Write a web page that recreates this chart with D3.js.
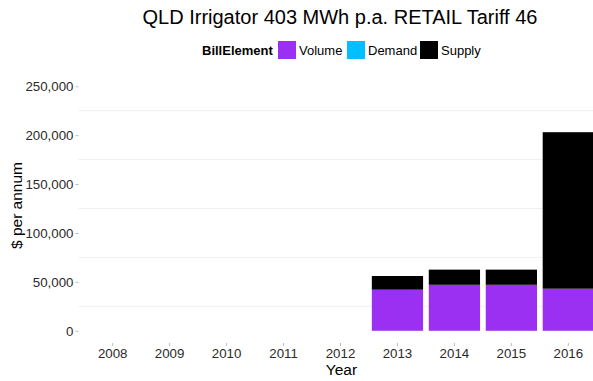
<!DOCTYPE html>
<html>
<head>
<meta charset="utf-8">
<script src="https://cdn.jsdelivr.net/npm/d3@7"></script>
<style>
  body { margin: 0; background: #fff; }
  svg { display: block; font-family: "Liberation Sans", Arial, sans-serif; }
</style>
</head>
<body>
<svg id="chart" width="593" height="381"></svg>
<script>
// Annual bill components, $ per annum
const years = ["2008", "2009", "2010", "2011", "2012", "2013", "2014", "2015", "2016"];
const elements = ["Volume", "Demand", "Supply"];
const volume = [0, 0, 0, 0, 0, 42000, 47000, 47000, 43000];
const demand = [0, 0, 0, 0, 0, 0, 0, 0, 0];
const supply = [0, 0, 0, 0, 0, 14000, 15500, 15500, 160000];
const colours = ["#9B30F2", "#00BFFF", "#000000"];
const yTicks = [0, 50000, 100000, 150000, 200000, 250000];
const yMinor = [25000, 75000, 125000, 175000, 225000];

const svg = d3.select("#chart");
const panel = { left: 78.5, right: 602.5, top: 74, bottom: 343 };

const x = d3.scaleBand()
  .domain(years)
  .range([panel.left, panel.right])
  .paddingInner(0.1)
  .paddingOuter(0.15);

const y = d3.scaleLinear()
  .domain([-12500, 262500])
  .range([panel.bottom, panel.top]);

const colour = d3.scaleOrdinal().domain(elements).range(colours);

// Faint minor grid
svg.append("g")
  .selectAll("line")
  .data(yMinor)
  .join("line")
  .attr("x1", panel.left)
  .attr("x2", panel.right)
  .attr("y1", d => y(d))
  .attr("y2", d => y(d))
  .attr("stroke", "#f0f0f0")
  .attr("stroke-width", 1);

// Stacked bars: Volume at the bottom, then Demand, then Supply
const rows = years.map((yr, i) => ({ year: yr, Volume: volume[i], Demand: demand[i], Supply: supply[i] }));
const stack = d3.stack().keys(elements)(rows);

svg.append("g")
  .selectAll("g")
  .data(stack)
  .join("g")
  .attr("fill", d => colour(d.key))
  .selectAll("rect")
  .data(d => d.filter(s => s[1] > s[0]))
  .join("rect")
  .attr("x", d => x(d.data.year))
  .attr("width", x.bandwidth())
  .attr("y", d => y(d[1]))
  .attr("height", d => y(d[0]) - y(d[1]));

// Y axis
const yAxis = svg.append("g")
  .attr("transform", `translate(${panel.left},0)`)
  .call(d3.axisLeft(y).tickValues(yTicks).tickSize(3).tickPadding(2).tickFormat(d3.format(",")));
yAxis.select(".domain").remove();
yAxis.selectAll(".tick line").attr("stroke", "#bdbdbd");
yAxis.selectAll(".tick text").attr("fill", "#2b2b2b").style("font-size", "13.3px");

// X axis
const xAxis = svg.append("g")
  .attr("transform", `translate(0,${panel.bottom})`)
  .call(d3.axisBottom(x).tickSize(3).tickPadding(3));
xAxis.select(".domain").remove();
xAxis.selectAll(".tick line").attr("stroke", "#bdbdbd");
xAxis.selectAll(".tick text").attr("fill", "#2b2b2b").style("font-size", "13.3px");

// Axis titles
svg.append("text")
  .attr("x", (panel.left + panel.right) / 2 + 1)
  .attr("y", 375)
  .attr("text-anchor", "middle")
  .style("font-size", "15.5px")
  .attr("fill", "#000")
  .text("Year");

svg.append("text")
  .attr("transform", `translate(22,${(panel.top + panel.bottom) / 2 - 3}) rotate(-90)`)
  .attr("text-anchor", "middle")
  .style("font-size", "15.5px")
  .attr("fill", "#000")
  .text("$ per annum");

// Title
svg.append("text")
  .attr("x", 340)
  .attr("y", 24)
  .attr("text-anchor", "middle")
  .style("font-size", "20px")
  .attr("fill", "#000")
  .text("QLD Irrigator 403 MWh p.a. RETAIL Tariff 46");

// Legend
const legend = svg.append("g");
legend.append("text")
  .attr("x", 202)
  .attr("y", 55)
  .style("font-size", "13px")
  .style("font-weight", "bold")
  .text("BillElement");

const legendX = [278, 347, 420];
const items = legend.selectAll("g.item")
  .data(elements)
  .join("g")
  .attr("class", "item")
  .attr("transform", (d, i) => `translate(${legendX[i]},41)`);
items.append("rect")
  .attr("width", 18)
  .attr("height", 18)
  .attr("fill", d => colour(d));
items.append("text")
  .attr("x", 21)
  .attr("y", 14)
  .style("font-size", "13px")
  .attr("fill", "#000")
  .text(d => d);
</script>
</body>
</html>
